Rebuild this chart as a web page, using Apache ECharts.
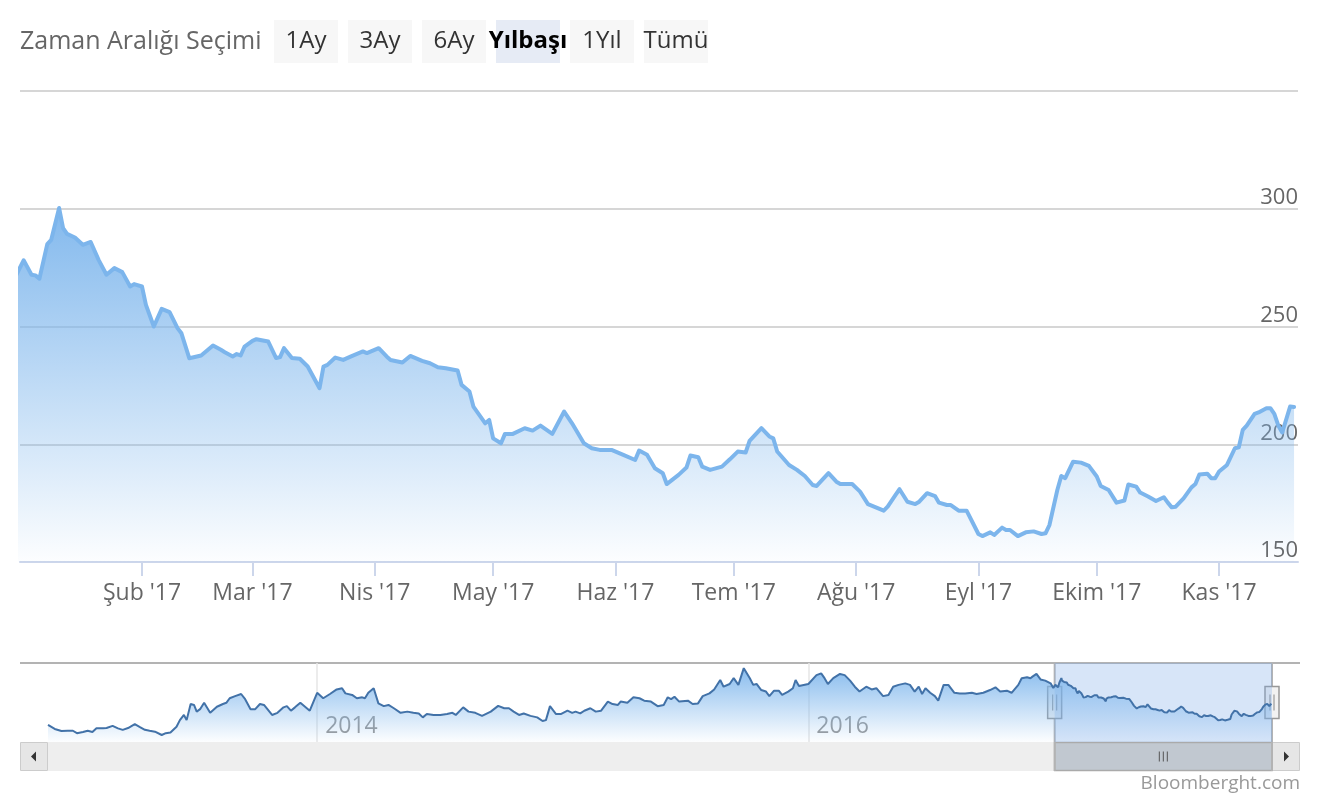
<!DOCTYPE html>
<html>
<head>
<meta charset="utf-8">
<title>Bloomberght</title>
<script src="https://cdn.jsdelivr.net/npm/echarts@6/dist/echarts.min.js"></script>
<style>
  html, body { margin: 0; padding: 0; background: #fff; }
  #chart { width: 1320px; height: 800px; }
</style>
</head>
<body>
<div id="chart"></div>
<script>
// history shown in the navigator
const histDates = [
  '2012-11-27','2012-12-07','2012-12-17','2012-12-26',
  '2013-01-03','2013-01-09','2013-01-18','2013-01-25','2013-02-01','2013-02-07','2013-02-17','2013-02-22',
  '2013-03-03','2013-03-11','2013-03-18','2013-03-26','2013-04-05','2013-04-12','2013-04-20','2013-04-27',
  '2013-05-05','2013-05-15','2013-05-21','2013-05-28','2013-06-06','2013-06-11','2013-06-17','2013-06-21',
  '2013-06-27','2013-07-02','2013-07-06','2013-07-11','2013-07-17','2013-07-26','2013-08-05','2013-08-14',
  '2013-08-19','2013-08-24','2013-09-01','2013-09-10','2013-09-16','2013-09-24','2013-10-01','2013-10-08',
  '2013-10-14','2013-10-26','2013-11-03','2013-11-12','2013-11-17','2013-11-23','2013-11-29','2013-12-07',
  '2013-12-21',
  '2014-01-01','2014-01-10','2014-01-20','2014-01-30','2014-02-07','2014-02-12','2014-02-22','2014-03-01',
  '2014-03-09','2014-03-13','2014-03-18','2014-03-26','2014-04-02','2014-04-10','2014-04-17','2014-04-25',
  '2014-05-05','2014-05-15','2014-05-24','2014-06-01','2014-06-07','2014-06-13','2014-06-23','2014-07-03',
  '2014-07-13','2014-07-21','2014-07-26','2014-08-06','2014-08-14','2014-08-24','2014-09-03','2014-09-16',
  '2014-09-27','2014-10-06','2014-10-13','2014-10-20','2014-10-28','2014-11-04','2014-11-14','2014-11-24',
  '2014-12-02','2014-12-07','2014-12-13','2014-12-22','2014-12-29',
  '2015-01-08','2015-01-15','2015-01-20','2015-01-27','2015-02-02','2015-02-11','2015-02-19','2015-02-27',
  '2015-03-09','2015-03-16','2015-03-24','2015-03-28','2015-04-07','2015-04-16','2015-04-25','2015-05-02',
  '2015-05-12','2015-05-22','2015-05-31','2015-06-06','2015-06-11','2015-06-16','2015-06-23','2015-07-06',
  '2015-07-13','2015-07-21','2015-07-28','2015-08-07','2015-08-14','2015-08-23','2015-08-28','2015-09-06',
  '2015-09-12','2015-09-19','2015-09-27','2015-10-06','2015-10-11','2015-10-16','2015-10-23','2015-10-30',
  '2015-11-04','2015-11-11','2015-11-18','2015-11-23','2015-12-02','2015-12-09','2015-12-13','2015-12-18',
  '2016-01-01','2016-01-13','2016-01-20','2016-01-25','2016-01-30','2016-02-07','2016-02-17','2016-02-24',
  '2016-03-03','2016-03-10','2016-03-17','2016-03-27','2016-04-04','2016-04-11','2016-04-21','2016-04-29',
  '2016-05-06','2016-05-14','2016-05-24','2016-05-31','2016-06-07','2016-06-13','2016-06-18','2016-06-23',
  '2016-06-30','2016-07-07','2016-07-12','2016-07-20','2016-07-27','2016-08-05','2016-08-13','2016-08-21',
  '2016-08-31','2016-09-07','2016-09-17','2016-09-27','2016-10-05','2016-10-12','2016-10-22','2016-10-29',
  '2016-11-08','2016-11-13','2016-11-21','2016-11-26','2016-11-29','2016-12-05','2016-12-11','2016-12-18',
  '2016-12-26','2016-12-30'
];
const histValues = [
  146,133,126,127,
  127,119,123,127,123,135,135,136,
  143,135,130,136,149,140,130,127,
  124,113,119,121,140,162,179,162,
  215,212,190,198,219,186,206,215,
  219,234,241,248,231,198,198,215,
  212,179,186,204,208,193,204,219,
  193,
  252,234,248,263,267,250,245,234,
  237,234,252,267,217,208,212,201,
  186,190,186,184,171,182,179,179,
  182,186,179,204,190,186,176,190,
  209,201,201,190,179,184,176,171,
  159,162,208,182,182,
  193,186,190,184,193,201,190,193,
  223,215,212,223,219,237,234,226,
  223,208,212,237,231,239,223,226,
  215,217,241,250,263,294,272,281,
  300,278,333,300,278,281,261,256,
  241,259,259,245,256,267,294,274,
  281,310,316,300,281,300,314,310,
  292,272,256,272,263,267,241,245,
  272,278,283,278,256,272,248,267,
  252,241,226,278,278,252,250,250,
  252,248,252,261,270,256,259,252,
  278,300,303,300,305,314,296,292,
  283,268
];

// 2017 daily closes
const dates2017 = [
  '2017-01-02','2017-01-04','2017-01-05','2017-01-06','2017-01-08','2017-01-09','2017-01-11','2017-01-12','2017-01-13',
  '2017-01-15','2017-01-17','2017-01-19','2017-01-21','2017-01-23','2017-01-25','2017-01-27','2017-01-29','2017-01-30',
  '2017-02-01','2017-02-02','2017-02-04','2017-02-06','2017-02-08','2017-02-10','2017-02-11','2017-02-13',
  '2017-02-16','2017-02-19','2017-02-21','2017-02-22','2017-02-24','2017-02-25','2017-02-26','2017-02-27',
  '2017-03-01','2017-03-02','2017-03-05','2017-03-07','2017-03-08','2017-03-09','2017-03-11','2017-03-13','2017-03-15',
  '2017-03-18','2017-03-19','2017-03-20','2017-03-22','2017-03-24','2017-03-26','2017-03-29','2017-03-30',
  '2017-04-02','2017-04-04','2017-04-05','2017-04-08','2017-04-10','2017-04-13','2017-04-15','2017-04-17',
  '2017-04-19','2017-04-22','2017-04-23','2017-04-25','2017-04-26','2017-04-29','2017-04-30',
  '2017-05-01','2017-05-03','2017-05-04','2017-05-06','2017-05-09','2017-05-11','2017-05-13','2017-05-16',
  '2017-05-19','2017-05-21','2017-05-24','2017-05-26','2017-05-28','2017-05-31',
  '2017-06-03','2017-06-06','2017-06-07','2017-06-09','2017-06-11','2017-06-13','2017-06-14','2017-06-17',
  '2017-06-19','2017-06-20','2017-06-22','2017-06-23','2017-06-25','2017-06-28','2017-06-30',
  '2017-07-02','2017-07-04','2017-07-05','2017-07-08','2017-07-10','2017-07-11','2017-07-12','2017-07-15',
  '2017-07-17','2017-07-19','2017-07-21','2017-07-22','2017-07-25','2017-07-27','2017-07-28','2017-07-31',
  '2017-08-02','2017-08-04','2017-08-06','2017-08-08','2017-08-09','2017-08-11','2017-08-12','2017-08-14',
  '2017-08-16','2017-08-17','2017-08-19','2017-08-21','2017-08-22','2017-08-24','2017-08-25','2017-08-27','2017-08-29',
  '2017-09-01','2017-09-02','2017-09-04','2017-09-05','2017-09-07','2017-09-08','2017-09-09','2017-09-11',
  '2017-09-13','2017-09-15','2017-09-17','2017-09-18','2017-09-19','2017-09-21','2017-09-22','2017-09-23',
  '2017-09-25','2017-09-27','2017-09-29',
  '2017-10-01','2017-10-02','2017-10-04','2017-10-06','2017-10-08','2017-10-09','2017-10-11','2017-10-12',
  '2017-10-14','2017-10-16','2017-10-18','2017-10-19','2017-10-20','2017-10-21','2017-10-23','2017-10-25',
  '2017-10-26','2017-10-27','2017-10-29','2017-10-30','2017-10-31',
  '2017-11-01','2017-11-03','2017-11-05','2017-11-06','2017-11-07','2017-11-08','2017-11-10','2017-11-11',
  '2017-11-13','2017-11-14','2017-11-15','2017-11-16','2017-11-17','2017-11-19','2017-11-20'
];
const values2017 = [
  278.1,272,271.7,270.3,285,286.8,300.3,291.8,289.3,
  287.8,284.7,285.9,278.3,272,274.8,273.1,267,268,
  267,259.2,250,257.5,256.1,249.3,247.1,236.5,
  237.7,241.9,240.1,239.1,237.3,238.3,237.7,241.5,
  243.9,244.6,243.6,236.6,237,240.8,236.6,236.3,233,
  223.8,233,233.7,236.8,235.8,237.3,239.4,238.7,
  240.8,237.3,235.8,234.7,237.5,235.4,234.4,232.7,
  232.3,231.3,225.2,222.4,216,208.9,210.3,
  202.5,200.4,204.4,204.4,206.8,205.8,207.9,204.4,
  213.9,208.9,200.4,198.3,197.6,197.6,
  195.5,193.3,197.3,195.5,189.8,187.7,183.1,187,
  190.1,195.2,194.5,190.5,189.1,190.5,193.6,
  196.9,196.5,201.4,206.8,203.3,202.5,196.9,191.2,
  189.1,186.5,182.7,182.3,187.7,184.1,183.1,183.1,
  179.9,174.6,173.2,171.8,173.5,178.5,180.9,175.6,
  174.6,175.6,179.2,178,175.2,174.2,174.2,171.8,171.8,
  161.9,161,162.6,161.5,164.6,163.6,163.6,161,
  162.6,163,161.9,162.2,165.7,180.6,186.5,185.6,
  192.6,192.2,190.8,
  186.3,182.3,180.6,175.2,176.1,182.9,182,179.5,
  177.8,175.9,177.5,175.2,173.2,173.5,177,181.7,
  183.1,187.2,187.5,185.6,185.6,
  188.4,191.2,198.3,198.7,206.1,207.9,212.9,213.5,
  215.3,215.3,212.9,208,205,216,215.8
];

const monthNames = ['Oca', 'Şub', 'Mar', 'Nis', 'May', 'Haz', 'Tem', 'Ağu', 'Eyl', 'Ekim', 'Kas', 'Ara'];
const navYearTicks = ['2014-01-01', '2016-01-01'];
const rangeButtons = ['1Ay', '3Ay', '6Ay', 'Yılbaşı', '1Yıl', 'Tümü'];
const selectedButton = 'Yılbaşı';
const rangeLabel = 'Zaman Aralığı Seçimi';
const credit = 'Bloomberght.com';
const yMin = 150, yMax = 350, yStep = 50;
const navMin = 90, navMax = 350;
const ytdStart = '2017-01-01';
const axisEnd = '2017-11-21';

const FONT = '"Open Sans", sans-serif';
const ts = s => { const p = s.split('-').map(Number); return new Date(p[0], p[1] - 1, p[2]).getTime(); };

const allDates = histDates.concat(dates2017);
const allValues = histValues.concat(values2017);
const allData = allDates.map((d, i) => [ts(d), allValues[i]]);
const mainData = allData.filter(p => p[0] >= ts('2016-12-26'));
const lastDate = dates2017[dates2017.length - 1];

const areaFill = (a0) => new echarts.graphic.LinearGradient(0, 0, 0, 1, [
  { offset: 0, color: 'rgba(124,181,236,' + a0 + ')' },
  { offset: 1, color: 'rgba(124,181,236,0.02)' }
]);

// range selector across the top
function rangeSelector() {
  const els = [{
    type: 'text', x: 20, y: 42,
    style: { text: rangeLabel, fill: '#666', fontSize: 25, fontFamily: FONT,
      align: 'left', verticalAlign: 'middle', textAlign: 'left', textVerticalAlign: 'middle' }
  }];
  rangeButtons.forEach((b, i) => {
    const on = b === selectedButton;
    const bx = 274 + i * 74;
    els.push({ type: 'rect', shape: { x: bx, y: 20, width: 64, height: 43 },
      style: { fill: on ? '#e6ebf5' : '#f7f7f7' } });
    els.push({ type: 'text', x: bx + 32, y: 41,
      style: { text: b, fill: on ? '#000' : '#333', fontSize: 24, fontFamily: FONT,
        fontWeight: on ? 'bold' : 'normal',
        align: 'center', verticalAlign: 'middle', textAlign: 'center', textVerticalAlign: 'middle' } });
  });
  els.push({ type: 'text', x: 1300, y: 784,
    style: { text: credit, fill: '#999', fontSize: 19, fontFamily: FONT,
      align: 'right', verticalAlign: 'middle', textAlign: 'right', textVerticalAlign: 'middle' } });
  return els;
}

// navigator frame, handles and scrollbar, placed from the navigator axis
function navigatorChrome(x0, x1) {
  const L = 20, R = 1300, bw = 28, nTop = 663, nBot = 742, sBot = 771;
  const cy = (nBot + sBot) / 2, hy = (nTop + nBot) / 2;
  const g = [];
  g.push({ type: 'rect', shape: { x: L + bw, y: nBot, width: R - L - 2 * bw, height: sBot - nBot }, style: { fill: '#eeeeee' } });
  [L, R - bw].forEach(bx => g.push({ type: 'rect',
    shape: { x: bx + 0.5, y: nBot + 0.5, width: bw - 1, height: sBot - nBot - 1 },
    style: { fill: '#e6e6e6', stroke: '#cccccc', lineWidth: 1 } }));
  g.push({ type: 'polygon', shape: { points: [[L + bw / 2 + 2, cy - 5], [L + bw / 2 + 2, cy + 5], [L + bw / 2 - 3, cy]] }, style: { fill: '#333' } });
  g.push({ type: 'polygon', shape: { points: [[R - bw / 2 - 2, cy - 5], [R - bw / 2 - 2, cy + 5], [R - bw / 2 + 3, cy]] }, style: { fill: '#333' } });
  g.push({ type: 'rect', shape: { x: x0, y: nBot + 0.5, width: x1 - x0, height: sBot - nBot - 1 },
    style: { fill: '#c1c8d0', stroke: '#aaaaaa', lineWidth: 1.5 } });
  const cx = (x0 + x1) / 2;
  [-4, 0, 4].forEach(o => g.push({ type: 'line', shape: { x1: cx + o, y1: cy - 5, x2: cx + o, y2: cy + 5 }, style: { stroke: '#555', lineWidth: 1 } }));
  g.push({ type: 'line', shape: { x1: L, y1: nTop, x2: R, y2: nTop }, style: { stroke: '#b3b3b3', lineWidth: 2 } });
  [x0, x1].forEach(x => {
    g.push({ type: 'line', shape: { x1: x, y1: nTop, x2: x, y2: sBot }, style: { stroke: '#b3b3b3', lineWidth: 2 } });
    g.push({ type: 'rect', shape: { x: x - 7, y: hy - 16, width: 14, height: 32 },
      style: { fill: '#f2f2f2', stroke: '#999', lineWidth: 1.5 } });
    [-2, 2].forEach(o => g.push({ type: 'line', shape: { x1: x + o, y1: hy - 8, x2: x + o, y2: hy + 8 }, style: { stroke: '#999', lineWidth: 1.2 } }));
  });
  return g;
}

const option = {
  animation: false,
  backgroundColor: '#fff',
  grid: [
    { left: 20, right: 22, top: 91, height: 471, containLabel: false, outerBoundsMode: 'none' },
    { left: 48, right: 48, top: 663, height: 79, containLabel: false, outerBoundsMode: 'none' }
  ],
  xAxis: [{
    type: 'time', gridIndex: 0,
    min: ts(ytdStart) + 2 * 3600 * 1000, max: ts(axisEnd),
    splitNumber: 11, maxInterval: 31 * 86400000,
    axisLine: { show: true, lineStyle: { color: '#ccd6eb', width: 2 } },
    axisTick: { show: true, length: 14, lineStyle: { color: '#ccd6eb', width: 2 } },
    axisLabel: {
      color: '#666', fontSize: 23, fontFamily: FONT, margin: 20, showMinLabel: false,
      formatter: v => { const d = new Date(v); return monthNames[d.getMonth()] + " '" + String(d.getFullYear()).slice(2); }
    },
    splitLine: { show: false }
  }, {
    type: 'value', gridIndex: 1,
    min: ts(histDates[0]), max: ts(lastDate),
    axisLine: { show: false },
    axisTick: { show: false, customValues: navYearTicks.map(ts) },
    axisLabel: {
      inside: true, color: '#999', fontSize: 23, fontFamily: FONT, align: 'left', margin: 4,
      padding: [0, 0, 0, 8], customValues: navYearTicks.map(ts),
      formatter: v => String(new Date(v).getFullYear())
    },
    splitLine: { show: true, lineStyle: { color: '#e6e6e6', width: 1.5 } }
  }],
  yAxis: [{
    type: 'value', gridIndex: 0, position: 'right',
    min: yMin, max: yMax, interval: yStep,
    axisLine: { show: false }, axisTick: { show: false },
    axisLabel: { inside: true, color: '#666', fontSize: 22, fontFamily: FONT, margin: 0,
      verticalAlign: 'bottom', showMaxLabel: false },
    splitLine: { show: true, lineStyle: { color: '#d6d6d6', width: 2 } }
  }, {
    type: 'value', gridIndex: 1, min: navMin, max: navMax, show: false,
    splitLine: { show: false }
  }],
  series: [{
    type: 'line', xAxisIndex: 0, yAxisIndex: 0, data: mainData,
    showSymbol: false, silent: true, clip: true,
    lineStyle: { color: '#7cb5ec', width: 4, join: 'round', cap: 'round' },
    areaStyle: { color: areaFill(0.95), opacity: 1 }
  }, {
    type: 'line', xAxisIndex: 1, yAxisIndex: 1, data: allData,
    showSymbol: false, silent: true,
    lineStyle: { color: '#4272a8', width: 2 },
    areaStyle: { color: areaFill(0.9), opacity: 1 },
    markArea: {
      silent: true,
      itemStyle: { color: 'rgba(124,170,232,0.3)' },
      data: [[{ xAxis: ts(ytdStart) }, { xAxis: ts(lastDate) }]]
    }
  }],
  graphic: { elements: rangeSelector() }
};

const chart = echarts.init(document.getElementById('chart'));
chart.setOption(option);
const sx0 = chart.convertToPixel({ xAxisIndex: 1 }, ts(ytdStart));
const sx1 = chart.convertToPixel({ xAxisIndex: 1 }, ts(lastDate));
chart.setOption({ graphic: { elements: rangeSelector().concat(navigatorChrome(sx0, sx1)) } });
</script>
</body>
</html>
